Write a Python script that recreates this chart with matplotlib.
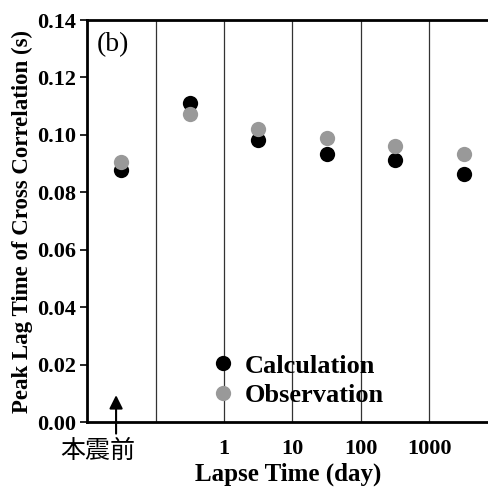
import numpy as np
import matplotlib.pyplot as plt

# Peak lag time per lapse-time bin (first bin = before mainshock)
positions = [0.5, 1.5, 2.5, 3.5, 4.5, 5.5]
calculation = [0.0878, 0.1112, 0.0982, 0.0935, 0.0912, 0.0865]
observation = [0.0905, 0.1072, 0.1022, 0.0990, 0.0963, 0.0935]
bin_edges = [1, 2, 3, 4, 5]
edge_labels = ['', '1', '10', '100', '1000']
yticks = [0.00, 0.02, 0.04, 0.06, 0.08, 0.10, 0.12, 0.14]

plt.rcParams['font.family'] = ['Liberation Serif', 'DejaVu Serif']

fig = plt.figure(figsize=(4.89, 4.88), dpi=100)
ax = fig.add_axes([0.178, 0.135, 0.822, 0.824])

ax.plot(positions, calculation, 'o', color='black', ms=11, mew=0, label='Calculation', zorder=3)
ax.plot(positions, observation, 'o', color='#999999', ms=11, mew=0, label='Observation', zorder=3)

ax.set_xlim(0, 5.87)
ax.set_ylim(0, 0.14)
ax.set_yticks(yticks)
ax.set_yticklabels(['%.2f' % v for v in yticks], fontsize=16, fontweight='bold')
ax.set_xticks(bin_edges)
ax.set_xticklabels(edge_labels, fontsize=16, fontweight='bold')
ax.tick_params(axis='x', length=0, pad=12)
ax.tick_params(axis='y', direction='out', length=5, width=1.2, pad=3)
ax.grid(axis='x', color='#333333', linewidth=0.9)

for s in ['left', 'bottom', 'top']:
    ax.spines[s].set_linewidth(2)
ax.spines['right'].set_visible(False)

ax.set_ylabel('Peak Lag Time of Cross Correlation (s)', fontsize=16.5, fontweight='bold', labelpad=3)
ax.set_xlabel('Lapse Time (day)', fontsize=18, fontweight='bold', labelpad=3)

ax.text(0.14, 0.1316, '(b)', fontsize=20, va='center')

ax.legend(loc='lower left', bbox_to_anchor=(0.26, -0.008), frameon=False, handletextpad=0.3,
          labelspacing=0.22, handlelength=1.0, borderaxespad=0.3,
          prop={'family': 'Liberation Serif', 'weight': 'bold', 'size': 19})

ax.annotate('', xy=(0.424, 0.0094), xytext=(0.424, -0.0040), annotation_clip=False,
            arrowprops=dict(arrowstyle='-|>', color='black', lw=1.5, mutation_scale=20, shrinkA=0, shrinkB=0))
ax.text(0.16, -0.0100, '本震前', fontsize=18, family=['Noto Sans CJK JP'], ha='center', va='center',
        clip_on=False)

fig.savefig('out.png', dpi=100)
